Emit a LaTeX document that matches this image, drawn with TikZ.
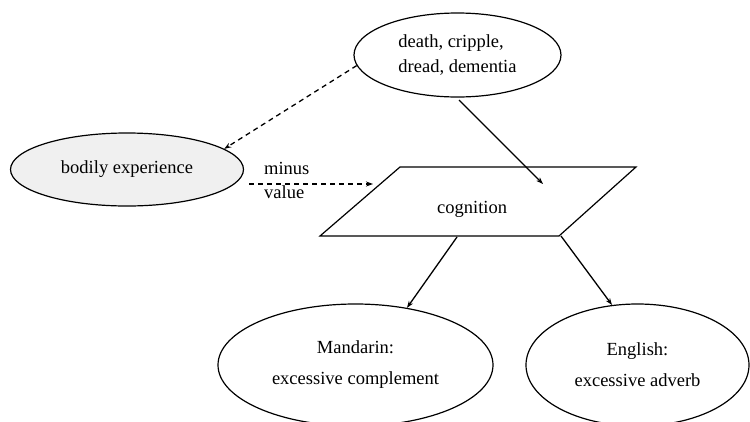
\documentclass[tikz,border=0pt]{standalone}
\usepackage{fontspec}
\setmainfont{Liberation Serif}
\usetikzlibrary{shapes.geometric,arrows.meta}
\definecolor{bodyfill}{HTML}{F0F0F0}
\begin{document}
\begin{tikzpicture}[x=1pt,y=-1pt,
  every node/.style={font=\fontsize{18.5}{25}\selectfont},
  oval/.style={draw,ellipse,line width=1.2pt,inner sep=0pt},
  link/.style={line width=1.3pt,-{Stealth[length=7pt,width=5pt]}},
  dlink/.style={link,dash pattern=on 5pt off 4pt},
  lbl/.style={anchor=base west,inner sep=0pt}]
\useasboundingbox (0,0) rectangle (750,421);

% concept ellipses
\node[oval,minimum width=207,minimum height=84,align=left] (fears) at (457.5,55)
  {death, cripple,\\dread, dementia};
\node[oval,fill=bodyfill,minimum width=233,minimum height=73] (body) at (127,169.5)
  {bodily experience};
\node[oval,minimum width=275,minimum height=122,align=center] (mand) at (355.5,365)
  {Mandarin:\\[6pt]excessive complement};
\node[oval,minimum width=223,minimum height=122,align=center] (eng) at (637.5,365)
  {English:\\[6pt]excessive adverb};

% cognition parallelogram
\draw[line width=1.2pt,line join=miter] (320,236) -- (400,167) -- (636,167) -- (559,236) -- cycle;
\node[anchor=base west,inner sep=0pt] (cog) at (437,213) {cognition};

% connector end points on the parallelogram
\coordinate (cogin) at (543,184);
\coordinate (cogleft) at (373,184);
\coordinate (cogbl) at (457,237);
\coordinate (cogbr) at (561,236);
\coordinate (bodyout) at (249,184);
\coordinate (fearsout) at (459,100);

% connectors
\draw[dlink] (fears.186) -- (body.12);
\draw[dlink] (bodyout) -- (cogleft);
\draw[link] (fearsout) -- (cogin);
\draw[link] (cogbl) -- (mand.48);
\draw[link] (cogbr) -- (eng.113);

% arrow label
\node[lbl] (minus) at (264,174.5) {minus};
\node[lbl] (value) at (264,198) {value};
\end{tikzpicture}
\end{document}
